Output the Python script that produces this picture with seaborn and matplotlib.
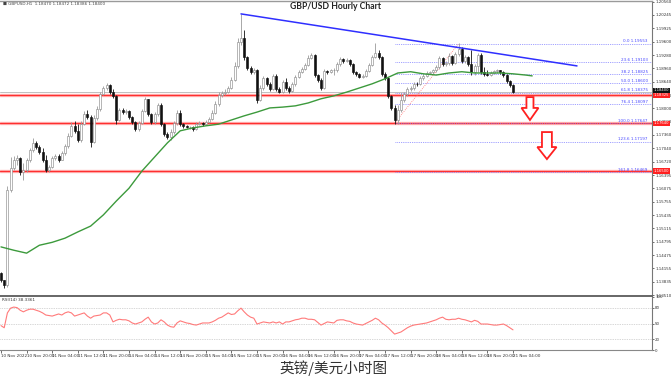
import matplotlib
matplotlib.use("Agg")
import matplotlib.pyplot as plt
import seaborn as sns
import numpy as np
from matplotlib.patches import Polygon

sns.set_theme(style="white")
plt.rcParams['font.family'] = ['DejaVu Sans']

# ---------------- data ----------------
first_open = 1.1404
closes = [
    1.1387, 1.1375, 1.1604, 1.1657, 1.1676, 1.1681, 1.1647, 1.1652, 1.1676, 1.1700,
    1.1717, 1.1707, 1.1695, 1.1676, 1.1652, 1.1659, 1.1681, 1.1686, 1.1676, 1.1693,
    1.1710, 1.1734, 1.1758, 1.1746, 1.1724, 1.1762, 1.1787, 1.1779, 1.1719, 1.1777,
    1.1799, 1.1835, 1.1849, 1.1856, 1.1839, 1.1830, 1.1772, 1.1796, 1.1791, 1.1794,
    1.1779, 1.1767, 1.1750, 1.1765, 1.1794, 1.1823, 1.1787, 1.1767, 1.1787, 1.1808,
    1.1762, 1.1738, 1.1731, 1.1743, 1.1765, 1.1789, 1.1762, 1.1758, 1.1755, 1.1756,
    1.1750, 1.1762, 1.1765, 1.1763, 1.1767, 1.1774, 1.1789, 1.1811, 1.1832, 1.1837,
    1.1839, 1.1849, 1.1868, 1.1902, 1.1960, 1.1969, 1.1924, 1.1897, 1.1888, 1.1892,
    1.1820, 1.1849, 1.1873, 1.1859, 1.1847, 1.1878, 1.1847, 1.1839, 1.1864, 1.1849,
    1.1842, 1.1859, 1.1876, 1.1888, 1.1895, 1.1904, 1.1921, 1.1928, 1.1880, 1.1868,
    1.1849, 1.1890, 1.1888, 1.1891, 1.1892, 1.1907, 1.1919, 1.1914, 1.1916, 1.1907,
    1.1888, 1.1883, 1.1876, 1.1878, 1.1890, 1.1904, 1.1924, 1.1933, 1.1924, 1.1883,
    1.1873, 1.1830, 1.1801, 1.1772, 1.1796, 1.1820, 1.1835, 1.1847, 1.1849, 1.1859,
    1.1858, 1.1873, 1.1878, 1.1885, 1.1887, 1.1892, 1.1900, 1.1921, 1.1907, 1.1909,
    1.1926, 1.1910, 1.1931, 1.1943, 1.1914, 1.1924, 1.1907, 1.1888, 1.1902, 1.1928,
    1.1888, 1.1883, 1.1880, 1.1885, 1.1890, 1.1891, 1.1887, 1.1880, 1.1866, 1.1856,
    1.1840]
highs = [
    1.1406, 1.1387, 1.1613, 1.1683, 1.1686, 1.1688, 1.1683, 1.1669, 1.1681, 1.1705,
    1.1729, 1.1722, 1.1712, 1.1705, 1.1688, 1.1664, 1.1686, 1.1690, 1.1690, 1.1698,
    1.1714, 1.1741, 1.1767, 1.1770, 1.1762, 1.1770, 1.1794, 1.1796, 1.1784, 1.1784,
    1.1806, 1.1839, 1.1854, 1.1861, 1.1859, 1.1847, 1.1832, 1.1801, 1.1801, 1.1799,
    1.1796, 1.1782, 1.1770, 1.1770, 1.1799, 1.1827, 1.1823, 1.1789, 1.1791, 1.1813,
    1.1813, 1.1765, 1.1743, 1.1750, 1.1770, 1.1796, 1.1796, 1.1765, 1.1760, 1.1758,
    1.1758, 1.1767, 1.1770, 1.1767, 1.1772, 1.1779, 1.1796, 1.1818, 1.1839, 1.1842,
    1.1847, 1.1854, 1.1876, 1.1912, 1.1969, 1.2027, 1.1989, 1.1926, 1.1902, 1.1897,
    1.1895, 1.1856, 1.1878, 1.1876, 1.1864, 1.1883, 1.1883, 1.1851, 1.1868, 1.1873,
    1.1854, 1.1864, 1.1880, 1.1892, 1.1900, 1.1909, 1.1928, 1.1933, 1.1931, 1.1883,
    1.1873, 1.1895, 1.1892, 1.1895, 1.1897, 1.1912, 1.1924, 1.1921, 1.1921, 1.1919,
    1.1909, 1.1890, 1.1885, 1.1883, 1.1895, 1.1909, 1.1928, 1.1957, 1.1940, 1.1926,
    1.1888, 1.1876, 1.1832, 1.1808, 1.1808, 1.1837, 1.1839, 1.1851, 1.1854, 1.1864,
    1.1864, 1.1878, 1.1883, 1.1890, 1.1890, 1.1895, 1.1904, 1.1926, 1.1924, 1.1914,
    1.1933, 1.1928, 1.1936, 1.1957, 1.1948, 1.1928, 1.1926, 1.1940, 1.1907, 1.1933,
    1.1933, 1.1900, 1.1892, 1.1890, 1.1892, 1.1895, 1.1892, 1.1890, 1.1883, 1.1868,
    1.1859]
lows = [
    1.1382, 1.1368, 1.1370, 1.1599, 1.1652, 1.1664, 1.1640, 1.1628, 1.1647, 1.1671,
    1.1695, 1.1702, 1.1690, 1.1671, 1.1647, 1.1647, 1.1657, 1.1676, 1.1671, 1.1676,
    1.1688, 1.1705, 1.1731, 1.1741, 1.1719, 1.1719, 1.1760, 1.1774, 1.1707, 1.1717,
    1.1772, 1.1794, 1.1832, 1.1844, 1.1835, 1.1825, 1.1762, 1.1770, 1.1787, 1.1787,
    1.1774, 1.1762, 1.1746, 1.1746, 1.1762, 1.1791, 1.1782, 1.1762, 1.1762, 1.1782,
    1.1758, 1.1734, 1.1726, 1.1724, 1.1738, 1.1760, 1.1758, 1.1753, 1.1753, 1.1750,
    1.1746, 1.1748, 1.1760, 1.1758, 1.1760, 1.1765, 1.1772, 1.1787, 1.1806, 1.1827,
    1.1832, 1.1837, 1.1847, 1.1866, 1.1897, 1.1952, 1.1916, 1.1892, 1.1883, 1.1883,
    1.1813, 1.1818, 1.1844, 1.1854, 1.1842, 1.1844, 1.1842, 1.1837, 1.1837, 1.1844,
    1.1837, 1.1839, 1.1854, 1.1873, 1.1885, 1.1892, 1.1902, 1.1919, 1.1876, 1.1864,
    1.1844, 1.1847, 1.1883, 1.1885, 1.1880, 1.1888, 1.1902, 1.1909, 1.1912, 1.1902,
    1.1883, 1.1878, 1.1873, 1.1873, 1.1876, 1.1888, 1.1902, 1.1921, 1.1919, 1.1878,
    1.1868, 1.1825, 1.1796, 1.1762, 1.1762, 1.1791, 1.1815, 1.1830, 1.1842, 1.1844,
    1.1854, 1.1856, 1.1868, 1.1876, 1.1883, 1.1883, 1.1888, 1.1895, 1.1902, 1.1902,
    1.1904, 1.1904, 1.1907, 1.1926, 1.1909, 1.1909, 1.1902, 1.1880, 1.1880, 1.1888,
    1.1883, 1.1878, 1.1878, 1.1878, 1.1883, 1.1885, 1.1883, 1.1876, 1.1861, 1.1851,
    1.1838]

ma_idx = [0, 4, 8, 12, 16, 20, 24, 28, 32, 36, 40, 44, 48, 52, 56, 60, 64, 68, 72, 76,
          80, 84, 88, 92, 96, 100, 104, 108, 112, 116, 120, 124, 128, 132, 136, 140,
          144, 148, 152, 156, 160, 164, 166]
ma_vals = [1.1467, 1.1459, 1.1452, 1.1471, 1.1478, 1.1488, 1.1503, 1.1517, 1.1544, 1.1577,
           1.1608, 1.1649, 1.1683, 1.1717, 1.1746, 1.1753, 1.1758, 1.1762, 1.1772, 1.1782,
           1.1791, 1.1801, 1.1803, 1.1806, 1.1813, 1.1823, 1.1830, 1.1839, 1.1849, 1.1859,
           1.1871, 1.1885, 1.1888, 1.1883, 1.1880, 1.1885, 1.1888, 1.1885, 1.1885, 1.1885,
           1.1883, 1.1880, 1.1878]

rsi_vals = [46, 42, 70, 79, 81, 80, 75, 72, 75, 77,
            77, 75, 73, 70, 66, 65, 64, 66, 68, 66,
            70, 72, 70, 64, 66, 68, 70, 64, 60, 64,
            65, 66, 70, 70, 66, 53, 56, 58, 57, 57,
            55, 51, 49, 51, 53, 58, 62, 53, 49, 51,
            57, 53, 47, 44, 43, 51, 55, 53, 51, 50,
            48, 47, 49, 51, 51, 51, 53, 56, 60, 62,
            66, 70, 67, 68, 74, 79, 72, 66, 62, 60,
            49, 51, 53, 52, 51, 53, 51, 53, 49, 53,
            53, 55, 57, 58, 60, 60, 58, 58, 57, 52,
            47, 50, 53, 52, 51, 56, 57, 57, 55, 54,
            51, 49, 48, 47, 50, 53, 56, 60, 57, 51,
            47, 42, 36, 30, 32, 34, 38, 42, 45, 47,
            48, 49, 50, 51, 53, 55, 57, 60, 62, 58,
            57, 58, 58, 60, 58, 57, 55, 53, 56, 54,
            49, 49, 49, 48, 47, 47, 48, 49, 46, 42,
            38]
rsi_levels = [80, 50, 20]
rsi_ticks = [0, 20, 50, 80, 100]

time_labels = ["10 Nov 2022", "10 Nov 20:00", "11 Nov 04:00", "11 Nov 12:00", "11 Nov 20:00",
               "14 Nov 04:00", "14 Nov 12:00", "14 Nov 20:00", "15 Nov 04:00", "15 Nov 12:00",
               "15 Nov 20:00", "16 Nov 04:00", "16 Nov 12:00", "16 Nov 20:00", "17 Nov 04:00",
               "17 Nov 12:00", "17 Nov 20:00", "18 Nov 04:00", "18 Nov 12:00", "18 Nov 20:00",
               "21 Nov 04:00"]
price_ticks = ["1.13510", "1.13835", "1.14155", "1.14475", "1.14795", "1.15115", "1.15435",
               "1.15755", "1.16075", "1.16395", "1.16720", "1.17040", "1.17360", "1.17680",
               "1.18000", "1.18320", "1.18640", "1.18960", "1.19280", "1.19600", "1.19925",
               "1.20245", "1.20560"]

red_levels = [1.18325, 1.17640, 1.16500]
fib_ratios = [0.0, 23.6, 38.2, 50.0, 61.8, 76.4, 100.0, 123.6, 161.8]
fib_high, fib_low = 1.19553, 1.17647
fib_idx = [143, 123]          # candle index of the high / low anchor
trend_idx = [75, 180]
trend_px = [1.2027, 1.1902]
arrow_idx = [165.3, 170.6]
arrow_top = [1.1827, 1.1743]
arrow_neck = [1.1801, 1.1707]
arrow_tip = [1.1772, 1.1678]

header = "GBPUSD,H1  1.18470 1.18472 1.18386 1.18400"
rsi_title = "RSI(14) 38.3361"
title = "GBP/USD Hourly Chart"
caption = "英镑/美元小时图"

# ---------------- figure ----------------
W, H = 672, 384
fig = plt.figure(figsize=(W / 100, H / 100), dpi=100)
fig.patch.set_facecolor("white")
ax = fig.add_axes([0, 1 - 296 / H, 652 / W, 295 / H])
rax = fig.add_axes([0, 1 - 350 / H, 652 / W, 53 / H])

n = len(closes)
idx = np.arange(n)
opens = np.array([first_open] + closes[:-1])
c = np.array(closes)
hi = np.maximum(np.array(highs), np.maximum(opens, c))
lo = np.minimum(np.array(lows), np.minimum(opens, c))
bull = c >= opens

xmin, xmax = -1 / 3.2, (652 - 1) / 3.2

# horizontal red levels (behind candles)
for lvl in red_levels:
    ax.axhline(lvl, color="#ffb8b8", lw=2.4, zorder=1)
    ax.axhline(lvl, color="#ff3030", lw=0.9, zorder=1.1)
# bid line
ax.axhline(closes[-1], color="#c0c0c0", lw=0.7, zorder=1)

# fibonacci levels
fib_prices = [fib_high - r / 100 * (fib_high - fib_low) for r in fib_ratios]
ax.hlines(fib_prices, fib_idx[1], xmax, colors="#8080ff", linestyles=(0, (1, 1.2)),
          lw=0.6, zorder=1.2)
for r, p in zip(fib_ratios, fib_prices):
    ax.text(xmax - 1.3, p + 0.00008, f"{r:.1f} {p:.5f}", ha="right", va="bottom",
            fontsize=3.0, color="#4a4aff", zorder=5)
ax.plot([fib_idx[1], fib_idx[0]], [fib_low, fib_high], color="#ff7070",
        ls=(0, (1, 1.5)), lw=0.6, zorder=1.3)

# wicks
ax.vlines(idx[bull], lo[bull], hi[bull], color="#9a9a9a", lw=0.6, zorder=2)
ax.vlines(idx[~bull], lo[~bull], hi[~bull], color="#111111", lw=0.6, zorder=2)
# bodies
body = np.where(np.abs(c - opens) < 0.00006, 0.00006, np.abs(c - opens))
bottom = np.minimum(c, opens)
ax.bar(idx[bull], body[bull], bottom=bottom[bull], width=0.62, color="white",
       edgecolor="#8c8c8c", linewidth=0.45, zorder=3)
ax.bar(idx[~bull], body[~bull], bottom=bottom[~bull], width=0.62, color="#111111",
       edgecolor="#111111", linewidth=0.45, zorder=3)

# moving average
sns.lineplot(x=ma_idx, y=ma_vals, ax=ax, color="#3c9a3c", lw=1.0, zorder=4)

# trend line
sns.lineplot(x=trend_idx, y=trend_px, ax=ax, color="#2f2fff", lw=1.1, zorder=4)

# arrows
for cx, t, nk, tp, sw, hw in zip(arrow_idx, arrow_top, arrow_neck, arrow_tip,
                                 [1.1, 1.55], [2.65, 3.0]):
    pts = [(cx - sw, t), (cx + sw, t), (cx + sw, nk), (cx + hw, nk), (cx, tp),
           (cx - hw, nk), (cx - sw, nk)]
    ax.add_patch(Polygon(pts, closed=True, facecolor="white", edgecolor="#ff2020",
                         lw=1.3, zorder=6))

ax.set_xlim(xmin, xmax)
ax.set_ylim(1.1349, 1.2058)
ax.set_xticks([])
ptv = [float(s) for s in price_ticks]
ax.yaxis.tick_right()
ax.set_yticks(ptv)
ax.set_yticklabels(price_ticks)
ax.tick_params(axis="y", right=True, left=False, labelsize=2.9, length=1.5, width=0.5,
               pad=0.8, colors="#333333")
ax.set_xlabel("")
ax.set_ylabel("")
ax.spines["left"].set_visible(False)
ax.spines["top"].set_color("#9a9a9a")
ax.spines["top"].set_linewidth(1.0)
ax.spines["right"].set_color("#777777")
ax.spines["right"].set_linewidth(0.8)
ax.spines["bottom"].set_color("#666666")
ax.spines["bottom"].set_linewidth(1.4)

ytr = ax.get_yaxis_transform()
for lvl in red_levels:
    ax.text(1.003, lvl, f"{lvl:.5f}", transform=ytr, fontsize=2.7, color="white",
            ha="left", va="center", zorder=7, clip_on=False,
            bbox=dict(boxstyle="square,pad=0.2", fc="#ff2020", ec="none"))
ax.text(1.003, closes[-1] + 0.0003, f"{closes[-1]:.5f}", transform=ytr, fontsize=2.7,
        color="white", ha="left", va="center", zorder=7, clip_on=False,
        bbox=dict(boxstyle="square,pad=0.2", fc="#111111", ec="none"))

# RSI panel
for lv in rsi_levels:
    rax.axhline(lv, color="#b0b0b0", lw=0.5, ls=(0, (1, 1.5)))
sns.lineplot(x=idx, y=rsi_vals, ax=rax, color="#ff7a7a", lw=0.8)
rax.set_xlim(xmin, xmax)
rax.set_ylim(0, 100)
rax.yaxis.tick_right()
rax.set_yticks(rsi_ticks)
rax.set_yticklabels([str(v) for v in rsi_ticks])
rax.tick_params(axis="y", right=True, left=False, labelsize=2.9, length=1.5, width=0.5,
                pad=0.8, colors="#333333")
rax.set_xticks(list(range(0, 8 * len(time_labels), 8)))
rax.set_xticklabels(time_labels, ha="left")
rax.tick_params(axis="x", bottom=True, labelsize=3.0, length=2, width=0.5, pad=1,
                colors="#333333")
rax.set_xlabel("")
rax.set_ylabel("")
rax.spines["left"].set_visible(False)
rax.spines["top"].set_visible(False)
rax.spines["right"].set_color("#777777")
rax.spines["right"].set_linewidth(0.8)
rax.spines["bottom"].set_color("#888888")
rax.spines["bottom"].set_linewidth(0.8)
rax.text(0.003, 0.985, rsi_title, transform=rax.transAxes, fontsize=3.0,
         color="#333333", ha="left", va="top")

# texts
fig.text(3 / W, 1 - 4 / H, "■ " + header, fontsize=3.0, color="#444444",
         ha="left", va="center")
fig.text(335 / W, 1 - 6.5 / H, title, fontsize=6.2, fontweight="bold",
         family=["Lato", "DejaVu Sans"], color="#222222", ha="center", va="center")
fig.text(334 / W, 1 - 368 / H, caption, fontsize=10.5,
         family=["Noto Sans CJK SC", "DejaVu Sans"], color="#333333",
         ha="center", va="center")

fig.savefig("out.png", dpi=100, facecolor="white")
